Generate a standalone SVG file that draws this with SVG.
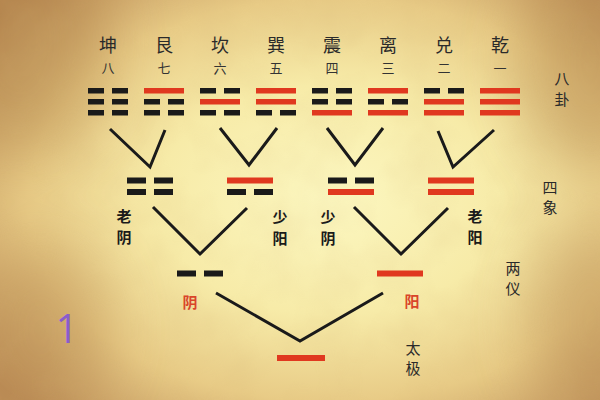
<svg xmlns="http://www.w3.org/2000/svg" width="600" height="400" viewBox="0 0 600 400">
<defs>
<radialGradient id="bg" cx="0.55" cy="0.5" r="0.72">
<stop offset="0" stop-color="#fcf7c0"/>
<stop offset="0.4" stop-color="#f7eba8"/>
<stop offset="0.7" stop-color="#e8cb86"/>
<stop offset="1" stop-color="#bd8e58"/>
</radialGradient>
<filter id="mottle" x="0" y="0" width="100%" height="100%">
<feTurbulence type="fractalNoise" baseFrequency="0.02" numOctaves="3" seed="4"/>
<feColorMatrix type="matrix" values="0 0 0 0 0.66  0 0 0 0 0.46  0 0 0 0 0.18  0 0 0 -1.2 0.75"/>
</filter>
<filter id="blur"><feGaussianBlur stdDeviation="30"/></filter>
<style>
.k{fill:#1a1a1a}
.r{fill:#e0381f}
.name{font-family:"Noto Sans CJK SC","Noto Sans",sans-serif;font-size:18px;fill:#2a2a2a;text-anchor:middle}
.num{font-family:"Noto Sans CJK SC","Noto Sans",sans-serif;font-size:13px;fill:#333;text-anchor:middle}
.side{font-family:"Noto Sans CJK SC","Noto Sans",sans-serif;font-size:15px;fill:#2a2a2a;text-anchor:middle}
.cal{font-family:"Noto Sans CJK SC","Noto Sans",sans-serif;font-size:15px;font-weight:700;fill:#1a1a1a;text-anchor:middle}
.red{font-family:"Noto Sans CJK SC","Noto Sans",sans-serif;font-size:15px;font-weight:700;fill:#d9452a;text-anchor:middle}
.ln{fill:none;stroke:#1a1a1a;stroke-width:3;stroke-linejoin:miter}
</style>
</defs>
<rect width="600" height="400" fill="url(#bg)"/>
<g filter="url(#blur)" opacity="0.4">
<ellipse cx="20" cy="40" rx="90" ry="120" fill="#a8783f"/>
<ellipse cx="590" cy="60" rx="70" ry="110" fill="#a8783f"/>
<ellipse cx="40" cy="330" rx="70" ry="90" fill="#b08048"/>
<ellipse cx="590" cy="320" rx="60" ry="100" fill="#b08048"/>
</g>
<rect width="600" height="400" filter="url(#mottle)" opacity="0.22"/>

<g id="names">
<text class="name" x="108" y="52">坤</text>
<text class="name" x="164" y="52">艮</text>
<text class="name" x="220" y="52">坎</text>
<text class="name" x="276" y="52">巽</text>
<text class="name" x="332" y="52">震</text>
<text class="name" x="388" y="52">离</text>
<text class="name" x="444" y="52">兑</text>
<text class="name" x="500" y="52">乾</text>
<text class="num" x="108" y="73">八</text>
<text class="num" x="164" y="73">七</text>
<text class="num" x="220" y="73">六</text>
<text class="num" x="276" y="73">五</text>
<text class="num" x="332" y="73">四</text>
<text class="num" x="388" y="73">三</text>
<text class="num" x="444" y="73">二</text>
<text class="num" x="500" y="73">一</text>
</g>

<g id="kun">
<rect class="k" x="88" y="88" width="16" height="5.5"/><rect class="k" x="112" y="88" width="16" height="5.5"/>
<rect class="k" x="88" y="99" width="16" height="5.5"/><rect class="k" x="112" y="99" width="16" height="5.5"/>
<rect class="k" x="88" y="110" width="16" height="5.5"/><rect class="k" x="112" y="110" width="16" height="5.5"/>
</g>
<g id="gen">
<rect class="r" x="144" y="88" width="40" height="5.5"/>
<rect class="k" x="144" y="99" width="16" height="5.5"/><rect class="k" x="168" y="99" width="16" height="5.5"/>
<rect class="k" x="144" y="110" width="16" height="5.5"/><rect class="k" x="168" y="110" width="16" height="5.5"/>
</g>
<g id="kan">
<rect class="k" x="200" y="88" width="16" height="5.5"/><rect class="k" x="224" y="88" width="16" height="5.5"/>
<rect class="r" x="200" y="99" width="40" height="5.5"/>
<rect class="k" x="200" y="110" width="16" height="5.5"/><rect class="k" x="224" y="110" width="16" height="5.5"/>
</g>
<g id="xun">
<rect class="r" x="256" y="88" width="40" height="5.5"/>
<rect class="r" x="256" y="99" width="40" height="5.5"/>
<rect class="k" x="256" y="110" width="16" height="5.5"/><rect class="k" x="280" y="110" width="16" height="5.5"/>
</g>
<g id="zhen">
<rect class="k" x="312" y="88" width="16" height="5.5"/><rect class="k" x="336" y="88" width="16" height="5.5"/>
<rect class="k" x="312" y="99" width="16" height="5.5"/><rect class="k" x="336" y="99" width="16" height="5.5"/>
<rect class="r" x="312" y="110" width="40" height="5.5"/>
</g>
<g id="li">
<rect class="r" x="368" y="88" width="40" height="5.5"/>
<rect class="k" x="368" y="99" width="16" height="5.5"/><rect class="k" x="392" y="99" width="16" height="5.5"/>
<rect class="r" x="368" y="110" width="40" height="5.5"/>
</g>
<g id="dui">
<rect class="k" x="424" y="88" width="16" height="5.5"/><rect class="k" x="448" y="88" width="16" height="5.5"/>
<rect class="r" x="424" y="99" width="40" height="5.5"/>
<rect class="r" x="424" y="110" width="40" height="5.5"/>
</g>
<g id="qian">
<rect class="r" x="480" y="88" width="40" height="5.5"/>
<rect class="r" x="480" y="99" width="40" height="5.5"/>
<rect class="r" x="480" y="110" width="40" height="5.5"/>
</g>

<g id="laoyin">
<rect class="k" x="127" y="177.5" width="19" height="6"/><rect class="k" x="154" y="177.5" width="19" height="6"/>
<rect class="k" x="127" y="189" width="19" height="6"/><rect class="k" x="154" y="189" width="19" height="6"/>
<text class="cal" x="124" y="222">老</text><text class="cal" x="124" y="243">阴</text>
</g>
<g id="shaoyang">
<rect class="r" x="227" y="177.5" width="46" height="6"/>
<rect class="k" x="227" y="189" width="19" height="6"/><rect class="k" x="254" y="189" width="19" height="6"/>
<text class="cal" x="280" y="223">少</text><text class="cal" x="280" y="244">阳</text>
</g>
<g id="shaoyin">
<rect class="k" x="328" y="177.5" width="19" height="6"/><rect class="k" x="355" y="177.5" width="19" height="6"/>
<rect class="r" x="328" y="189" width="46" height="6"/>
<text class="cal" x="328" y="223">少</text><text class="cal" x="328" y="244">阴</text>
</g>
<g id="laoyang">
<rect class="r" x="428" y="177.5" width="46" height="6"/>
<rect class="r" x="428" y="189" width="46" height="6"/>
<text class="cal" x="475" y="222">老</text><text class="cal" x="475" y="243">阳</text>
</g>

<g id="yin">
<rect class="k" x="177" y="270.5" width="19" height="6"/><rect class="k" x="204" y="270.5" width="19" height="6"/>
<text class="red" x="190" y="308">阴</text>
</g>
<g id="yang">
<rect class="r" x="377" y="270.5" width="46" height="6"/>
<text class="red" x="412" y="307">阳</text>
</g>
<g id="taiji">
<rect class="r" x="277" y="355" width="48" height="6"/>
</g>

<g id="labels">
<text class="side" x="562" y="84">八</text><text class="side" x="562" y="105">卦</text>
<text class="side" x="550" y="193">四</text><text class="side" x="550" y="213">象</text>
<text class="side" x="513" y="274">两</text><text class="side" x="513" y="294">仪</text>
<text class="side" x="413" y="354">太</text><text class="side" x="413" y="374">极</text>
<text x="67" y="343" font-family="'Open Sans','Liberation Sans',sans-serif" font-weight="400" font-size="40" fill="#8a5ccc" text-anchor="middle">1</text>
</g>

<g id="connectors">
<polyline class="ln" points="110,129 150,167 165,130"/>
<polyline class="ln" points="220,128 249,165 277,128"/>
<polyline class="ln" points="327,128 355,165 383,128"/>
<polyline class="ln" points="438,131 453,167 494,130"/>
<polyline class="ln" points="153,207 200,254 247,208"/>
<polyline class="ln" points="354,207 401,254 448,208"/>
<polyline class="ln" points="216,293 300,341 383,293"/>
</g>
</svg>
